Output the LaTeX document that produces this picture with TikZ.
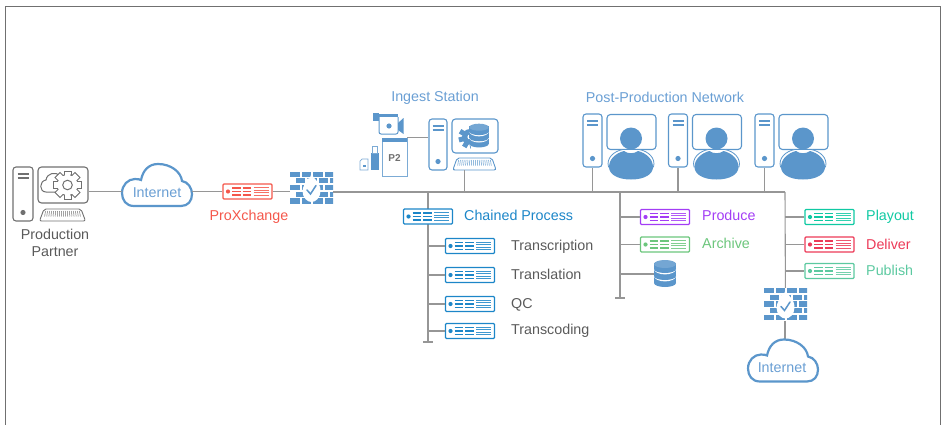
\documentclass[tikz,border=0pt]{standalone}
\usepackage{fontspec}
\setmainfont{Liberation Sans}

\definecolor{iconblue}{HTML}{5B96CB}
\definecolor{labelblue}{HTML}{6A9FD4}
\definecolor{chainblue}{HTML}{1C86C8}
\definecolor{proxred}{HTML}{F4574B}
\definecolor{producepurple}{HTML}{A33DF5}
\definecolor{archivegreen}{HTML}{6CC67C}
\definecolor{playoutteal}{HTML}{10C9A3}
\definecolor{deliverred}{HTML}{EC3A58}
\definecolor{publishgreen}{HTML}{5CC9A0}
\definecolor{linegray}{HTML}{969696}
\definecolor{icongray}{HTML}{707070}
\definecolor{textgray}{HTML}{5A5A5A}

\tikzset{
  center text/.style={font=\fontsize{14.3}{16}\selectfont, inner sep=0pt, text height=10pt, text depth=3pt},
  label text/.style={center text, anchor=west},
  wire/.style={draw=linegray, line width=1.1pt},
  appliance/.style={draw=#1, line width=1.1pt, rounded corners=1pt, inner sep=0pt,
    minimum width=49pt, minimum height=15pt,
    path picture={
      \begin{scope}[shift={(path picture bounding box.center)}]
        \fill[#1] (-19.5,0) circle (2.1pt);
        \foreach \yy in {-3.5,0,3.5}
          \draw[#1, line width=1.6pt] (-15.5,\yy) -- (-7,\yy) (-5,\yy) -- (3.5,\yy);
        \foreach \yy in {-4,-1.5,1,3.5}
          \draw[#1!85!white, line width=.8pt] (6,\yy) -- (21,\yy);
      \end{scope}
    }},
  tower/.style={draw=#1, line width=1.1pt, rounded corners=3pt, inner sep=0pt, minimum width=19pt,
    path picture={
      \fill[#1] ([yshift=8.5pt]path picture bounding box.south) circle (2.6pt);
      \draw[#1, line width=1.4pt]
        ([xshift=-5.5pt,yshift=-7pt]path picture bounding box.north) -- ([xshift=5.5pt,yshift=-7pt]path picture bounding box.north)
        ([xshift=-5.5pt,yshift=-11pt]path picture bounding box.north) -- ([xshift=5.5pt,yshift=-11pt]path picture bounding box.north);
    }},
  monitor/.style={draw=#1, line width=1.1pt, rounded corners=3.5pt, inner sep=0pt},
  firewall/.style={inner sep=0pt, minimum width=43pt, minimum height=33pt,
    path picture={
      \begin{scope}[shift={(path picture bounding box.center)}]
        \foreach \yy in {-16.5,-3.1,10.3}
          \foreach \x in {-21.5,-10,1.5,13}
            \fill[iconblue] (\x,\yy) rectangle ++(9.5,5.2);
        \foreach \yy in {-9.8,3.6}
          \foreach \x in {-16,-4.5,7,18.5}
            \fill[iconblue] (\x,\yy) rectangle ++(9.5,5.2);
        \fill[white] (0,-15) .. controls (1,-9) and (9,-7) .. (9,3)
          .. controls (9,10) and (4,14) .. (0,14)
          .. controls (-4,14) and (-9,10) .. (-9,3)
          .. controls (-9,-2) and (-5,-5) .. (-5,-9)
          .. controls (-3,-8) and (-1,-10) .. (0,-15) -- cycle;
        \draw[iconblue, line width=1.5pt, line cap=round] (-4.5,2) -- (-1,6) -- (4.5,-2.5);
      \end{scope}
    }},
  pics/keyline/.style={code={
    \draw[#1, line width=.9pt, rounded corners=2pt] (-20,6) -- (-23,6) -- (-18.5,-6) -- (18.5,-6) -- (23,6) -- cycle;
    \foreach \x in {-17,-15,...,17}
      \draw[#1, line width=.5pt] (\x,-4) -- (\x*1.05,1.5);
  }},
  pics/cloudline/.style={code={
    \draw[iconblue, line width=2.2pt, fill=white] (-23,21) .. controls (-31,21) and (-35,15) .. (-35,8)
      .. controls (-35,0) and (-29,-6) .. (-22,-6) .. controls (-19,-6) and (-17,-5.5) .. (-16,-5)
      .. controls (-14,-15) and (-8,-21) .. (1,-21) .. controls (14,-21) and (24,-13) .. (25,-4)
      .. controls (31,-3) and (35,3) .. (35,9) .. controls (35,16) and (31,21) .. (24,21) -- cycle;
  }},
  pics/person/.style={code={
    \fill[iconblue] (0,-11.5) circle (11pt);
    \draw[iconblue, line width=.8pt, fill=white] (-22.5,17) .. controls (-25,8) and (-17,1) .. (-8,-.5)
      -- (8,-.5) .. controls (17,1) and (25,8) .. (22.5,17) -- cycle;
    \fill[iconblue] (0,29.5) .. controls (-14,29.5) and (-22,24) .. (-22,17)
      .. controls (-22,9) and (-15,3) .. (-7,1) .. controls (-3,4) and (3,4) .. (7,1)
      .. controls (15,3) and (22,9) .. (22,17) .. controls (22,24) and (14,29.5) .. (0,29.5) -- cycle;
  }},
  pics/dbstack/.style={code={
    \foreach \yy in {6,-1,-8}
    {
      \fill[white] (0,\yy+3) ellipse (11pt and 5.4pt);
      \fill[iconblue] (-11,\yy-3) rectangle (11,\yy+3);
      \fill[iconblue] (0,\yy+3) ellipse (11pt and 4pt);
    }
    \fill[iconblue!85!white] (0,-10) ellipse (11pt and 4pt);
  }},
  pics/gearline/.style={code={
    \foreach \a in {0,45,...,315}
      \draw[icongray, line width=1pt, fill=white, rotate=\a] (-3.5,-14) rectangle (3.5,-9);
    \draw[icongray, line width=1pt, fill=white] (0,0) circle (10.5pt);
    \fill[white] (0,0) circle (9.8pt);
    \foreach \a in {0,45,...,315}
      \fill[white, rotate=\a] (-2.9,-13.4) rectangle (2.9,-9);
    \draw[icongray, line width=1pt] (0,0) circle (4.8pt);
  }}
}

\begin{document}
\begin{tikzpicture}[x=1pt,y=-1pt]
  \useasboundingbox (0,0) rectangle (941,425);

  \draw[icongray, line width=1pt] (5,425) -- (5,7) -- (940,7) -- (940,425);

  % production partner
  \node[tower=icongray, minimum width=20pt, minimum height=54pt] (partnertower) at (23,194) {};
  \node[monitor=icongray, minimum width=50pt, minimum height=36pt] (partnermonitor) at (63,185) {};
  \node[inner sep=0pt, minimum width=46pt, minimum height=12pt] (partnerkeys) at (62.5,215) {};
  \pic at (partnerkeys) {keyline=icongray};
  \draw[icongray, line width=1pt] (57,192) -- (46,192) .. controls (39,192) and (39,181) .. (46,180)
    .. controls (47,173) and (56,171) .. (60,176);
  \pic at (67.5,185) {gearline};
  \node[center text, text=textgray] (partnertext1) at (55,235.8) {Production};
  \node[center text, text=textgray] (partnertext2) at (55,252.5) {Partner};

  % internet, proxchange, firewall
  \node[minimum width=70pt, minimum height=42pt, inner sep=0pt] (cloudA) at (157,185) {};
  \pic at (cloudA) {cloudline};
  \node[center text, text=labelblue] (cloudAtext) at (157,193.8) {Internet};
  \node[appliance=proxred] (proxchange) at (247.5,191.5) {};
  \node[center text, text=proxred] (proxtext) at (249,216.5) {ProXchange};
  \node[firewall] (firewallA) at (311.5,188) {};

  \draw[wire] (partnermonitor.east |- proxchange) -- (cloudA.west |- proxchange);
  \draw[wire] (cloudA.east |- proxchange) -- (proxchange);

  % ingest station
  \node[center text, text=labelblue] (ingesttext) at (435,98.5) {Ingest Station};
  \node[tower=iconblue, minimum width=18pt, minimum height=51pt] (ingesttower) at (438,144.5) {};
  \node[monitor=iconblue, minimum width=46pt, minimum height=34pt] (ingestmonitor) at (475,136) {};
  \node[inner sep=0pt, minimum width=43pt, minimum height=12pt] (ingestkeys) at (474.5,164) {};
  \pic[xscale=.94] at (ingestkeys) {keyline=iconblue};
  \foreach \a in {60,105,...,285}
    \fill[iconblue, rotate around={\a:(470,137)}] (467.5,125.5) rectangle (472.5,130);
  \fill[iconblue] (470,137) circle (8pt);
  \fill[white] (470,137) circle (2.6pt);
  \fill[white] (471,124) rectangle (480,150);
  \pic[scale=.88] at (479,136) {dbstack};

  % camera
  \fill[iconblue] (373,113) rectangle (379,121);
  \fill[iconblue] (379,114) rectangle (398,117);
  \draw[iconblue, line width=1pt, rounded corners=2pt] (379,117) -- (379,134) -- (398,134) -- (398,117);
  \fill[iconblue] (389,126) circle (2.6pt);
  \fill[iconblue] (398,123) -- (403.5,118) -- (403.5,134) -- (398,130) -- cycle;

  % card and usb stick
  \node[draw=iconblue!80!white, line width=.8pt, inner sep=0pt, minimum width=25pt, minimum height=38pt,
    text height=9pt, font=\bfseries\fontsize{10}{12}\selectfont, text=icongray] (p2card) at (394.5,157) {P2};
  \fill[iconblue] (382,138) rectangle (407,142);
  \fill[iconblue] (371,153) rectangle (379,170);
  \draw[iconblue!80!white, line width=.7pt] (372.5,153) rectangle (377.5,146);
  \draw[iconblue!80!white, line width=.7pt] (360,170) -- (360,161) -- (362,159) -- (368,159) -- (368,170) -- cycle;
  \fill[iconblue] (362.5,165) rectangle (365.5,167);

  \draw[wire] (p2card.north east) -- (ingesttower.west |- p2card.north);

  % post-production network
  \node[center text, text=labelblue] (posttext) at (665,99) {Post-Production Network};
  \foreach \name/\x in {postA/0,postB/85.5,postC/172}
  {
    \node[tower=iconblue, minimum height=53pt] (\name tower) at (592.5+\x,140.5) {};
    \node[monitor=iconblue, minimum width=49pt, minimum height=35pt] (\name monitor) at (631.5+\x,132) {};
    \pic at (631+\x,150) {person};
  }

  % bus and stems
  \coordinate (busend) at (785,192);
  \coordinate (stemA) at (428,342);
  \coordinate (stemB) at (620,298);
  \draw[wire] (firewallA.east |- busend) -- (busend);
  \draw[wire] ([xshift=-9.8pt]ingestkeys.south) -- ([xshift=-9.8pt]ingestkeys.south |- busend);
  \foreach \name in {postA,postB,postC}
    \draw[wire] (\name tower.south) -- (\name tower.south |- busend);
  \draw[wire] (stemA |- busend) -- (stemA);
  \draw[wire] (stemB |- busend) -- (stemB);
  \draw[wire] ([xshift=-5pt]stemA) -- ([xshift=5pt]stemA);
  \draw[wire] ([xshift=-5pt]stemB) -- ([xshift=5pt]stemB);
  \draw[wire] (proxchange) -- (firewallA.west |- proxchange);

  % chained process
  \node[appliance=chainblue, fill=white] (chained) at (428,216.5) {};
  \node[label text, text=chainblue] (chainedtext) at (464,217) {Chained Process};
  \foreach \name/\yy/\tt/\ty in {transcription/246/Transcription/246.5,translation/275/Translation/276,qc/304/QC/305,transcoding/331/Transcoding/331}
  {
    \node[appliance=chainblue] (\name) at (470,\yy) {};
    \node[label text, text=textgray] (\name text) at (511,\ty) {\tt};
    \draw[wire] (stemA |- \name) -- (\name);
  }

  % produce, archive, storage
  \node[appliance=producepurple] (produce) at (665,217) {};
  \node[label text, text=producepurple] (producetext) at (702,217) {Produce};
  \node[appliance=archivegreen] (archive) at (665,244.5) {};
  \node[label text, text=archivegreen] (archivetext) at (702,245) {Archive};
  \node[minimum width=22pt, minimum height=28pt, inner sep=0pt] (storage) at (665,274) {};
  \pic at (storage) {dbstack};
  \draw[wire] (stemB |- produce) -- (produce);
  \draw[wire] (stemB |- archive) -- (archive);
  \draw[wire] (stemB |- storage) -- (storage);

  % playout, deliver, publish
  \node[firewall] (firewallB) at (785.5,304.5) {};
  \node[minimum width=72pt, minimum height=43pt, inner sep=0pt] (cloudB) at (783,360.5) {};
  \draw[wire] (busend) -- (firewallB);
  \draw[wire] (firewallB.south -| busend) -- (cloudB.north -| busend);
  \pic at (cloudB) {cloudline};
  \node[center text, text=labelblue] (cloudBtext) at (782,368.5) {Internet};
  \foreach \name/\yy/\col/\tt/\ty in {playout/217/playoutteal/Playout/217,deliver/244.5/deliverred/Deliver/246,publish/271/publishgreen/Publish/271.5}
  {
    \node[appliance=\col] (\name) at (829.5,\yy) {};
    \node[label text, text=\col] (\name text) at (866,\ty) {\tt};
    \draw[wire] (busend |- \name) -- (\name);
  }
\end{tikzpicture}
\end{document}
